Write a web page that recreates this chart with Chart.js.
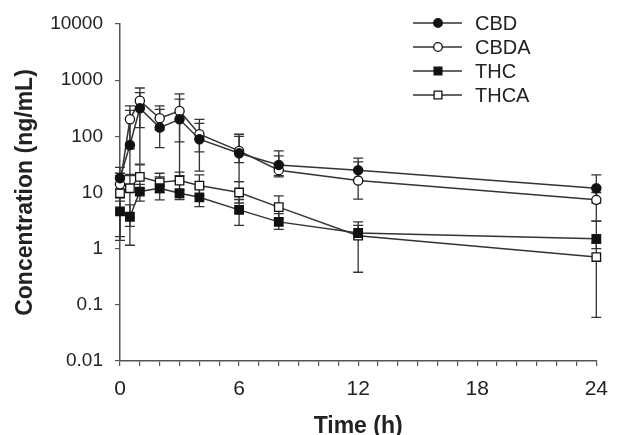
<!DOCTYPE html>
<html>
<head>
<meta charset="utf-8">
<script src="https://cdn.jsdelivr.net/npm/chart.js@4.4.1/dist/chart.umd.min.js"></script>
<style>
  html, body { margin: 0; padding: 0; background: #fff; }
  canvas { display: block; }
</style>
</head>
<body>
<canvas id="pkChart" width="619" height="435"></canvas>
<script>
const times = [0, 0.5, 1, 2, 3, 4, 6, 8, 12, 24];

const cbd   = [18, 70, 316, 143, 201, 89, 50, 31, 25, 11.9];
const cbdHi = [28, 290, 600, 303, 460, 170, 109, 55, 41, 20.6];
const cbdLo = [11, 20, 32, 63, 20, 24, 15.6, 20, 16, 6.5];

const cbda   = [14, 201, 431, 210, 283, 109, 55, 25, 16.3, 7.4];
const cbdaHi = [22, 348, 725, 348, 570, 200, 100, 45, 35, 10];
const cbdaLo = [8, 60, 143, 130, 80, 53, 34, 19, 7.6, 3.1];

const thc   = [4.6, 3.7, 10.4, 11.9, 9.7, 8.2, 4.9, 3.0, 1.9, 1.5];
const thcHi = [7, 6, 14, 19, 16, 12, 7.5, 4.2, 3.0, 3.1];
const thcLo = [1.4, 1.15, 7, 7.4, 7.5, 5.6, 2.6, 2.2, 1.5, 1.0];

const thca   = [9.7, 11.9, 19, 15.2, 16.3, 13.3, 10, 5.5, 1.7, 0.71];
const thcaHi = [20, 21, 31, 22, 23, 20.6, 15.6, 8.7, 2.6, 1.25];
const thcaLo = [1.64, 2.5, 12, 10, 11, 9, 6.5, 3.5, 0.38, 0.06];

const yTicks = [0.01, 0.1, 1, 10, 100, 1000, 10000];
const xLabels = [0, 6, 12, 18, 24];

const ink = "#333";
const axisInk = "#555";
const fontFam = "'Liberation Sans', Arial, sans-serif";

function serie(label, vals, hi, lo, style, fill) {
  return {
    label,
    data: times.map((t, i) => ({ x: t, y: vals[i] })),
    hi, lo,
    borderColor: ink,
    borderWidth: 1.5,
    pointStyle: style,
    pointRadius: style === "rect" ? 6 : 4.6,
    pointBackgroundColor: fill,
    pointBorderColor: "#111",
    pointBorderWidth: 1.3,
    tension: 0,
    clip: false
  };
}

const datasets = [
  serie("CBD", cbd, cbdHi, cbdLo, "circle", "#111"),
  serie("CBDA", cbda, cbdaHi, cbdaLo, "circle", "#fff"),
  serie("THC", thc, thcHi, thcLo, "rect", "#111"),
  serie("THCA", thca, thcaHi, thcaLo, "rect", "#fff")
];

// barras de error, dibujadas antes que las lineas
const errorBars = {
  id: "errorBars",
  beforeDatasetsDraw(chart) {
    const { ctx, scales: { x, y } } = chart;
    ctx.save();
    ctx.strokeStyle = ink;
    ctx.lineWidth = 1.3;
    chart.data.datasets.forEach(ds => {
      ds.data.forEach((p, i) => {
        const px = x.getPixelForValue(p.x);
        const top = y.getPixelForValue(ds.hi[i]);
        const bot = y.getPixelForValue(ds.lo[i]);
        ctx.beginPath();
        ctx.moveTo(px, top); ctx.lineTo(px, bot);
        ctx.moveTo(px - 5, top); ctx.lineTo(px + 5, top);
        ctx.moveTo(px - 5, bot); ctx.lineTo(px + 5, bot);
        ctx.stroke();
      });
    });
    ctx.restore();
  }
};

const legendBox = {
  id: "legendBox",
  afterDraw(chart) {
    const { ctx } = chart;
    ctx.save();
    chart.data.datasets.forEach((ds, i) => {
      const yy = 23 + i * 24;
      ctx.strokeStyle = ink;
      ctx.lineWidth = 1.5;
      ctx.beginPath();
      ctx.moveTo(413, yy); ctx.lineTo(462, yy);
      ctx.stroke();
      ctx.fillStyle = ds.pointBackgroundColor;
      ctx.strokeStyle = ds.pointBorderColor;
      ctx.lineWidth = 1.3;
      Chart.helpers.drawPoint(ctx, { pointStyle: ds.pointStyle, radius: ds.pointStyle === "rect" ? 5.5 : 4.3, rotation: 0, borderWidth: 1.3 }, 438, yy);
      ctx.fillStyle = "#222";
      ctx.font = "20px " + fontFam;
      ctx.textBaseline = "middle";
      ctx.textAlign = "left";
      ctx.fillText(ds.label, 475, yy + 1);
    });
    ctx.restore();
  }
};

new Chart(document.getElementById("pkChart"), {
  type: "line",
  data: { datasets },
  plugins: [errorBars, legendBox],
  options: {
    responsive: false,
    animation: false,
    layout: { padding: { top: 24, right: 16, left: 0, bottom: 0 } },
    plugins: { legend: { display: false }, tooltip: { enabled: false } },
    scales: {
      x: {
        type: "linear",
        min: 0,
        max: 24,
        afterFit: s => { s.height = 74; },
        border: { color: axisInk, width: 1.5 },
        grid: { display: true, drawOnChartArea: false, tickLength: 5, color: axisInk, lineWidth: 1.2 },
        ticks: {
          stepSize: 1,
          autoSkip: false,
          maxRotation: 0,
          padding: 11,
          color: "#222",
          font: { family: fontFam, size: 21 },
          callback: v => (xLabels.includes(v) ? String(v) : "")
        },
        title: {
          display: true,
          text: "Time (h)",
          color: "#222",
          padding: { top: 0, bottom: 0 },
          font: { family: fontFam, size: 23, weight: "bold", lineHeight: 0.7 }
        }
      },
      y: {
        type: "logarithmic",
        min: 0.01,
        max: 10000,
        afterFit: s => { s.width = 120; },
        afterBuildTicks: s => { s.ticks = yTicks.map(v => ({ value: v })); },
        border: { color: axisInk, width: 1.5 },
        grid: { display: true, drawOnChartArea: false, tickLength: 5, color: axisInk, lineWidth: 1.2 },
        ticks: {
          padding: 12,
          color: "#222",
          font: { family: fontFam, size: 19 },
          callback: v => String(v)
        },
        title: {
          display: true,
          text: "Concentration (ng/mL)",
          color: "#222",
          padding: { top: 14, bottom: 0 },
          font: { family: fontFam, size: 23, weight: "bold", lineHeight: 1 }
        }
      }
    }
  }
});
</script>
</body>
</html>
